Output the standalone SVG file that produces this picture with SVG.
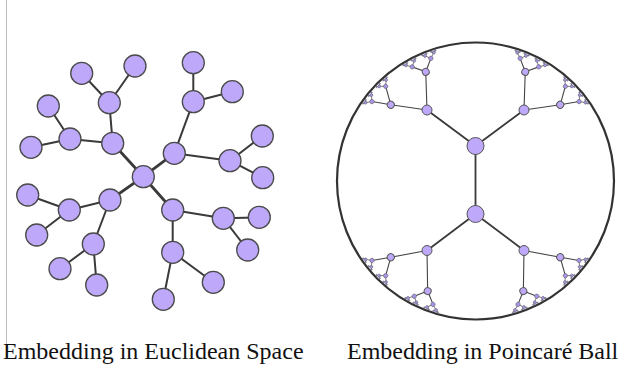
<svg xmlns="http://www.w3.org/2000/svg" xmlns:xlink="http://www.w3.org/1999/xlink" width="623" height="368" viewBox="0 0 623 368">
<style>
.n{fill:#bea8fa;stroke:#4a4a4a;stroke-width:1.3}
.e{stroke:#3a3a3a;stroke-width:2;fill:none;stroke-linecap:round}
.e0{stroke:#3a3a3a;stroke-width:2.8;fill:none;stroke-linecap:round}
.pe{stroke:#3a3a3a;stroke-width:1.8;fill:none}
.pe1{stroke:#444;stroke-width:1.1;fill:none}
.pe2{stroke:#555;stroke-width:0.7;fill:none}
.pe3{stroke:#666;stroke-width:0.45;fill:none}
.pn{fill:#bea8fa;stroke:#555;stroke-width:1}
.pn2{fill:#a994e8;stroke:#555;stroke-width:0.5}
.lbl{font-family:"Liberation Serif","Times New Roman",serif;font-size:24px;fill:#111}
</style>
<defs>
<g id="fan">
<path class="pe2" d="M130.1,10.24L134.13,15.28M130.1,10.24L134.87,5.89M130.1,-10.24L134.13,-15.28M130.1,-10.24L134.87,-5.89"/>
<path class="pe3" d="M134.13,15.28L135.46,17.59M134.13,15.28L135.95,13.33M134.87,5.89L136.36,8.1M134.87,5.89L136.55,3.81M134.13,-15.28L135.46,-17.59M134.13,-15.28L135.95,-13.33M134.87,-5.89L136.36,-8.1M134.87,-5.89L136.55,-3.81"/>
<circle class="pn2" cx="130.1" cy="10.24" r="2.2"/>
<circle class="pn2" cx="130.1" cy="-10.24" r="2.2"/>
<circle class="pn2" cx="134.13" cy="15.28" r="1.5"/>
<circle class="pn2" cx="134.87" cy="5.89" r="1.5"/>
<circle class="pn2" cx="134.13" cy="-15.28" r="1.5"/>
<circle class="pn2" cx="134.87" cy="-5.89" r="1.5"/>
<circle class="pn2" cx="135.46" cy="17.59" r="0.8"/>
<circle class="pn2" cx="135.95" cy="13.33" r="0.8"/>
<circle class="pn2" cx="136.36" cy="8.1" r="0.8"/>
<circle class="pn2" cx="136.55" cy="3.81" r="0.8"/>
<circle class="pn2" cx="135.46" cy="-17.59" r="0.8"/>
<circle class="pn2" cx="135.95" cy="-13.33" r="0.8"/>
<circle class="pn2" cx="136.36" cy="-8.1" r="0.8"/>
<circle class="pn2" cx="136.55" cy="-3.81" r="0.8"/>
</g>
<g id="clUp">
<path class="pe1" d="M120,0L130.1,10.24M120,0L130.1,-10.24"/>
<use xlink:href="#fan" href="#fan"/>
<circle class="pn" cx="120" cy="0" r="3.5"/>
</g>
<g id="clSide">
<path class="pe1" d="M114,0L130.1,10.24M114,0L130.1,-10.24"/>
<use xlink:href="#fan" href="#fan"/>
<circle class="pn" cx="114" cy="0" r="3.5"/>
</g>
</defs>
<rect width="623" height="368" fill="#fff"/>
<line x1="6.5" y1="0" x2="6.5" y2="345" stroke="#bdbdbd" stroke-width="1"/>

<!-- Euclidean tree -->
<g id="euclid-edges">
<path class="e0" d="M143.3,176.7L174.3,153.3M143.3,176.7L172.7,210M143.3,176.7L110,200M143.3,176.7L112.7,143.3"/>
<path class="e" d="M174.3,153.3L193.3,101.7M174.3,153.3L230,160.7M193.3,101.7L193.3,62.7M193.3,101.7L232.3,91.7M230,160.7L262.3,136M230,160.7L262.7,177.7
M172.7,210L223.3,218.3M172.7,210L172.7,252.3M223.3,218.3L259.3,217.3M223.3,218.3L247.7,250M172.7,252.3L163.3,299.3M172.7,252.3L213.3,282.3
M110,200L69.3,210M110,200L93.3,244M69.3,210L27.7,195M69.3,210L36.7,235M93.3,244L60,268.7M93.3,244L96.7,285
M112.7,143.3L109.3,102.7M112.7,143.3L70,139M109.3,102.7L81.7,73.3M109.3,102.7L135,66M70,139L48.3,106M70,139L31,147.3"/>
</g>
<g id="e-root"><circle class="n" cx="143.3" cy="176.7" r="11"/></g>
<g id="e-1"><circle class="n" cx="174.3" cy="153.3" r="11"/></g>
<g id="e-1a"><circle class="n" cx="193.3" cy="101.7" r="11"/></g>
<g id="e-1a1"><circle class="n" cx="193.3" cy="62.7" r="11"/></g>
<g id="e-1a2"><circle class="n" cx="232.3" cy="91.7" r="11"/></g>
<g id="e-1b"><circle class="n" cx="230" cy="160.7" r="11"/></g>
<g id="e-1b1"><circle class="n" cx="262.3" cy="136" r="11"/></g>
<g id="e-1b2"><circle class="n" cx="262.7" cy="177.7" r="11"/></g>
<g id="e-2"><circle class="n" cx="172.7" cy="210" r="11"/></g>
<g id="e-2a"><circle class="n" cx="223.3" cy="218.3" r="11"/></g>
<g id="e-2a1"><circle class="n" cx="259.3" cy="217.3" r="11"/></g>
<g id="e-2a2"><circle class="n" cx="247.7" cy="250" r="11"/></g>
<g id="e-2b"><circle class="n" cx="172.7" cy="252.3" r="11" stroke="#2a2a2a" stroke-width="2"/></g>
<g id="e-2b1"><circle class="n" cx="163.3" cy="299.3" r="11"/></g>
<g id="e-2b2"><circle class="n" cx="213.3" cy="282.3" r="11"/></g>
<g id="e-3"><circle class="n" cx="110" cy="200" r="11"/></g>
<g id="e-3a"><circle class="n" cx="69.3" cy="210" r="11"/></g>
<g id="e-3a1"><circle class="n" cx="27.7" cy="195" r="11"/></g>
<g id="e-3a2"><circle class="n" cx="36.7" cy="235" r="11"/></g>
<g id="e-3b"><circle class="n" cx="93.3" cy="244" r="11"/></g>
<g id="e-3b1"><circle class="n" cx="60" cy="268.7" r="11"/></g>
<g id="e-3b2"><circle class="n" cx="96.7" cy="285" r="11"/></g>
<g id="e-4"><circle class="n" cx="112.7" cy="143.3" r="11"/></g>
<g id="e-4a"><circle class="n" cx="109.3" cy="102.7" r="11"/></g>
<g id="e-4a1"><circle class="n" cx="81.7" cy="73.3" r="11"/></g>
<g id="e-4a2"><circle class="n" cx="135" cy="66" r="11"/></g>
<g id="e-4b"><circle class="n" cx="70" cy="139" r="11"/></g>
<g id="e-4b1"><circle class="n" cx="48.3" cy="106" r="11"/></g>
<g id="e-4b2"><circle class="n" cx="31" cy="147.3" r="11"/></g>

<!-- Poincare ball -->
<circle id="ball" cx="475.5" cy="181" r="138.5" fill="none" stroke="#333" stroke-width="2.2"/>
<g id="poincare-edges">
<path class="pe" d="M475.5,146L427,110M475.5,146L524,110M475.5,146L475.5,214M475.5,214L427,250.5M475.5,214L524,250.5"/>
<path class="pe1" d="M427,110L425.74,71.8M427,110L390.78,104.72M524,110L525.26,71.8M524,110L560.22,104.72M427,250.5L390.78,257.28M427,250.5L427.65,291.05M524,250.5L560.22,257.28M524,250.5L523.35,291.05"/>
</g>
<g id="p-clusterA"><use xlink:href="#clUp" href="#clUp" transform="translate(475.5,181) rotate(245.5)"/></g>
<g id="p-clusterC"><use xlink:href="#clUp" href="#clUp" transform="translate(475.5,181) rotate(294.5)"/></g>
<g id="p-clusterF"><use xlink:href="#clUp" href="#clUp" transform="translate(475.5,181) rotate(113.5)"/></g>
<g id="p-clusterH"><use xlink:href="#clUp" href="#clUp" transform="translate(475.5,181) rotate(66.5)"/></g>
<g id="p-clusterB"><use xlink:href="#clSide" href="#clSide" transform="translate(475.5,181) rotate(222)"/></g>
<g id="p-clusterD"><use xlink:href="#clSide" href="#clSide" transform="translate(475.5,181) rotate(318)"/></g>
<g id="p-clusterE"><use xlink:href="#clSide" href="#clSide" transform="translate(475.5,181) rotate(138)"/></g>
<g id="p-clusterG"><use xlink:href="#clSide" href="#clSide" transform="translate(475.5,181) rotate(42)"/></g>
<g id="p-top"><circle class="pn" cx="475.5" cy="146" r="8.5"/></g>
<g id="p-bottom"><circle class="pn" cx="475.5" cy="214" r="8.5"/></g>
<g id="p-tl"><circle class="pn" cx="427" cy="110" r="5"/></g>
<g id="p-tr"><circle class="pn" cx="524" cy="110" r="5"/></g>
<g id="p-bl"><circle class="pn" cx="427" cy="250.5" r="5"/></g>
<g id="p-br"><circle class="pn" cx="524" cy="250.5" r="5"/></g>

<text class="lbl" x="3" y="359">Embedding in Euclidean Space</text>
<text class="lbl" x="347" y="359">Embedding in Poincaré Ball</text>
</svg>
